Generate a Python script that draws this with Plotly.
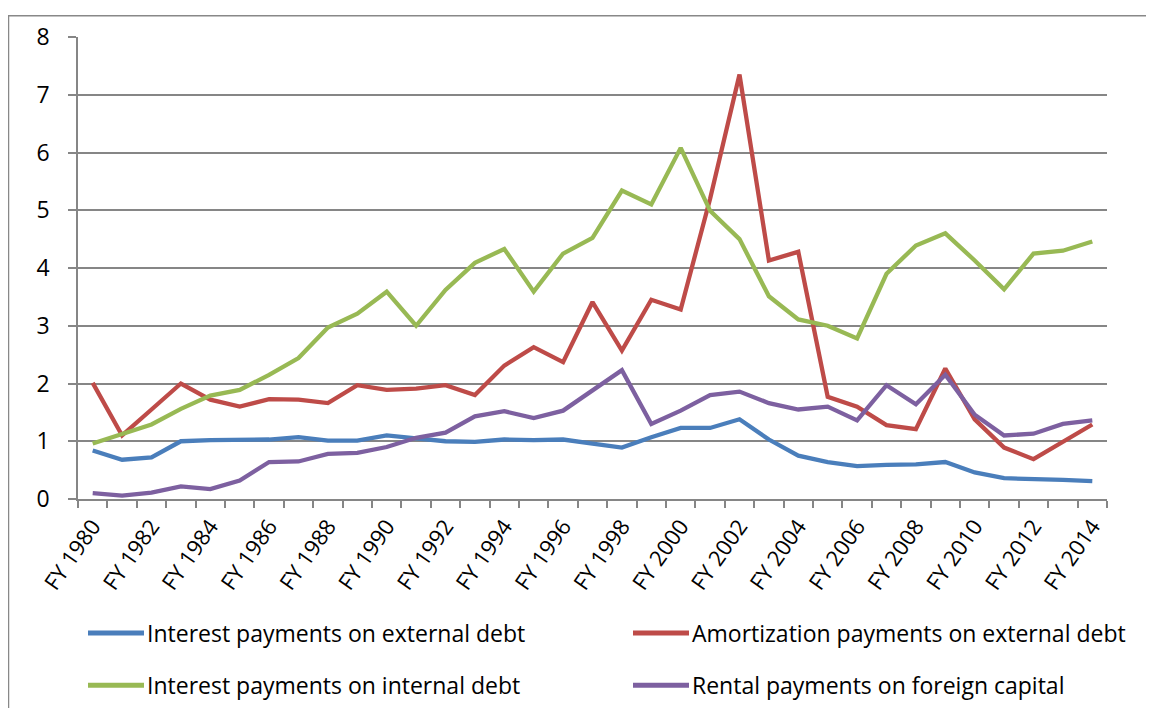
import plotly.graph_objects as go

years = list(range(1980, 2015))
categories = [f"FY {y}" for y in years]

series_names = [
    "Interest payments on external debt",
    "Amortization payments on external debt",
    "Interest payments on internal debt",
    "Rental payments on foreign capital",
]

interest_external = [0.84, 0.68, 0.72, 1.00, 1.02, 1.03, 1.03, 1.07, 1.01, 1.01,
                     1.10, 1.05, 1.00, 0.99, 1.03, 1.02, 1.03, 0.96, 0.89, 1.07,
                     1.23, 1.23, 1.38, 1.03, 0.75, 0.64, 0.57, 0.59, 0.60, 0.64,
                     0.46, 0.36, 0.35, 0.33, 0.31]
amortization_external = [2.01, 1.10, 1.55, 2.00, 1.72, 1.60, 1.73, 1.72, 1.66, 1.97,
                         1.89, 1.91, 1.97, 1.80, 2.31, 2.63, 2.37, 3.41, 2.57, 3.45,
                         3.28, 5.20, 7.35, 4.13, 4.28, 1.77, 1.60, 1.28, 1.21, 2.26,
                         1.38, 0.89, 0.69, 1.00, 1.29]
interest_internal = [0.96, 1.12, 1.29, 1.56, 1.79, 1.89, 2.15, 2.44, 2.97, 3.21,
                     3.59, 3.00, 3.62, 4.09, 4.33, 3.59, 4.25, 4.52, 5.34, 5.10,
                     6.08, 4.99, 4.50, 3.51, 3.11, 3.00, 2.78, 3.90, 4.39, 4.60,
                     4.13, 3.63, 4.25, 4.30, 4.46]
rental_foreign = [0.10, 0.06, 0.11, 0.22, 0.17, 0.32, 0.64, 0.65, 0.78, 0.80,
                  0.90, 1.06, 1.15, 1.43, 1.52, 1.40, 1.53, 1.89, 2.23, 1.30,
                  1.53, 1.80, 1.86, 1.66, 1.55, 1.60, 1.36, 1.97, 1.64, 2.15,
                  1.46, 1.10, 1.13, 1.30, 1.36]

series_values = [interest_external, amortization_external, interest_internal, rental_foreign]
colors = ["#4A7EBB", "#BE4B48", "#98B954", "#7D60A0"]

y_ticks = list(range(0, 9))
x_tick_years = years[::2]
x_tick_labels = [f"FY {y}" for y in x_tick_years]

FONT = "Open Sans"
OFF = 8  # page body margin in the browser
W, H = 1154, 708
# target plot area in screen pixels: x 78..1107, y 30..499
L = 78 - OFF
T = 30 - OFF
R = W - (1107 - OFF)
B = H - (499 - OFF)
PW, PH = W - L - R, H - T - B


def px_x(p):
    """screen pixel x -> paper coord"""
    return (p - OFF - L) / PW


def px_y(p):
    """screen pixel y -> paper coord"""
    return (H - B - (p - OFF)) / PH


fig = go.Figure()
for name, vals, col in zip(series_names, series_values, colors):
    fig.add_trace(go.Scatter(
        x=years, y=vals, mode="lines", name=name,
        line=dict(color=col, width=4.3), showlegend=False,
        customdata=categories, hovertemplate="%{customdata}: %{y}<extra>" + name + "</extra>",
    ))

grid = "#868686"
fig.update_layout(
    width=W, height=H,
    margin=dict(l=L, r=R, t=T, b=B),
    paper_bgcolor="white", plot_bgcolor="white",
    font=dict(family=FONT, size=22, color="black"),
    xaxis=dict(
        range=[1979.5, 2014.5], tickmode="array", tickvals=x_tick_years, ticktext=x_tick_labels,
        tickangle=-55, ticks="", showgrid=False, zeroline=False,
        showline=True, linecolor=grid, linewidth=1.5,
        minor=dict(tickmode="linear", tick0=1979.5, dtick=1, ticks="outside",
                   ticklen=7, tickcolor=grid, tickwidth=1.5, showgrid=False),
        tickfont=dict(family=FONT, size=22),
        ticklabelstandoff=4,
        fixedrange=True,
    ),
    yaxis=dict(
        range=[0, 8], tickmode="array", tickvals=y_ticks, ticks="outside", ticklen=8,
        tickcolor=grid, tickwidth=1.5, showgrid=True, gridcolor=grid, gridwidth=1.5,
        zeroline=False, showline=True, linecolor=grid, linewidth=1.5,
        ticklabelstandoff=14, tickfont=dict(family=FONT, size=23),
        fixedrange=True,
    ),
)

shapes = [dict(type="rect", xref="paper", yref="paper",
               x0=px_x(8.5), x1=px_x(1250), y0=px_y(800), y1=px_y(8.5),
               line=dict(color="#888888", width=1.5), fillcolor="rgba(0,0,0,0)", layer="below")]
annotations = []
legend_pos = [(88, 635), (633, 635), (88, 688), (633, 688)]
for (lx, ly), name, col in zip(legend_pos, series_names, colors):
    shapes.append(dict(type="line", xref="paper", yref="paper",
                       x0=px_x(lx), x1=px_x(lx + 56), y0=px_y(ly), y1=px_y(ly),
                       line=dict(color=col, width=5)))
    annotations.append(dict(xref="paper", yref="paper", x=px_x(lx + 57), y=px_y(ly),
                            xanchor="left", yanchor="middle", text=name, showarrow=False,
                            font=dict(family=FONT, size=23, color="black")))
fig.update_layout(shapes=shapes, annotations=annotations)

fig.write_html("out.html")
